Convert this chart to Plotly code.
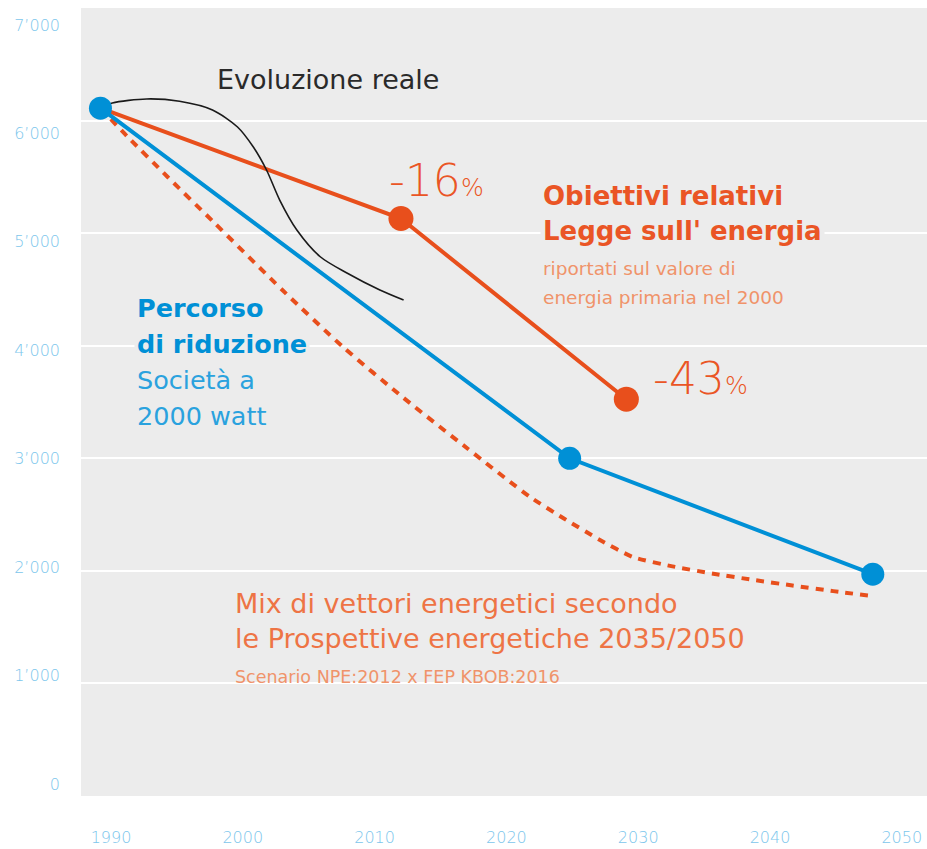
import plotly.graph_objects as go

# ---------------- data ----------------
years_path = [1989.2, 2024.8, 2047.8]          # Percorso di riduzione (Società a 2000 watt)
vals_path = [6110, 3000, 1970]

years_target = [1989.2, 2012.0, 2029.1]        # Obiettivi Legge sull'energia
vals_target = [6110, 5130, 3525]

years_real = [1989.2, 1990.1, 1992.7, 1995.2, 1997.7, 1999.6, 2000.8, 2001.8,
              2002.8, 2004.1, 2005.9, 2007.9, 2010.4, 2012.2]
vals_real = [6110, 6156, 6192, 6171, 6094, 5943, 5765, 5561,
             5294, 5028, 4788, 4646, 4495, 4406]

years_mix = [1989.2, 1991.2, 1994.3, 1997.7, 2003.0, 2007.6, 2012.2, 2017.0, 2021.8,
             2024.3, 2027.1, 2029.6, 2032.6, 2035.7, 2038.7, 2041.7, 2044.8, 2047.7]
vals_mix = [6110, 5863, 5499, 5108, 4495, 3989, 3536, 3091, 2656,
            2470, 2274, 2123, 2040, 1975, 1920, 1870, 1820, 1777]

x_ticks = [1990, 2000, 2010, 2020, 2030, 2040, 2050]
x_ticktext = ["1990", "2000", "2010", "2020", "2030", "2040", "2050"]
y_ticks = [0, 1000, 2000, 3000, 4000, 5000, 6000, 7000]
y_ticktext = ["0", "1’000", "2’000", "3’000", "4’000", "5’000", "6’000", "7’000"]
grid_vals = [1000, 2000, 3000, 4000, 5000, 6000]

# ---------------- style ----------------
W, H = 927, 849
ML, MR, MT, MB = 81, 0, 8, 53
ORANGE = "#e84f1c"
ORANGE_TXT = "#ea5525"
ORANGE_LIGHT = "#ee7445"
ORANGE_PALE = "#f0936a"
BLUE = "#0090d6"
BLUE_LIGHT = "#2aa2de"
TICK = "#7cc6ec"
BG = "#ececec"
FONT = "DejaVu Sans"

fig = go.Figure()

fig.add_trace(go.Scatter(x=years_mix, y=vals_mix, mode="lines",
                         line=dict(color=ORANGE, width=4, dash="8px,7px", shape="spline", smoothing=0.6),
                         hoverinfo="skip"))
fig.add_trace(go.Scatter(x=years_target, y=vals_target, mode="lines",
                         line=dict(color=ORANGE, width=4), hoverinfo="skip"))
fig.add_trace(go.Scatter(x=years_target[1:], y=vals_target[1:], mode="markers",
                         marker=dict(color=ORANGE, size=25), hoverinfo="skip"))
fig.add_trace(go.Scatter(x=years_real, y=vals_real, mode="lines",
                         line=dict(color="#1a1a1a", width=1.6, shape="spline", smoothing=0.8),
                         hoverinfo="skip"))
fig.add_trace(go.Scatter(x=years_path, y=vals_path, mode="lines+markers",
                         line=dict(color=BLUE, width=4), marker=dict(color=BLUE, size=23),
                         hoverinfo="skip"))
# invisible trace carrying the label axis
fig.add_trace(go.Scatter(x=[1990], y=[0], yaxis="y2", mode="markers",
                         marker=dict(opacity=0), hoverinfo="skip"))


def px_x(px):
    return (px - ML) / (W - ML - MR)


def px_y(py):
    return (H - MB - py) / (H - MB - MT)


anns = []


def ann(text, x, y, size, color, bg=None, weight=None):
    f = dict(family=FONT, size=size, color=color)
    if weight:
        f["weight"] = weight
    d = dict(text=text, x=px_x(x), y=px_y(y), xref="paper", yref="paper",
             xanchor="left", yanchor="middle", showarrow=False,
             font=f, borderpad=2)
    if bg:
        d["bgcolor"] = bg
    anns.append(d)


ann("Evoluzione reale", 214, 79, 27, "#2a2a2a")
ann("-16<span style='font-size:24px'>%</span>", 386, 180, 44, ORANGE_TXT, weight=300)
ann("-43<span style='font-size:24px'>%</span>", 650, 378, 44, ORANGE_TXT, weight=300)
ann("<b>Obiettivi relativi</b>", 540, 196, 26, ORANGE_TXT)
ann("<b>Legge sull' energia</b>", 540, 231, 26, ORANGE_TXT, bg=BG)
ann("riportati sul valore di", 540, 268, 18.5, ORANGE_PALE)
ann("energia primaria nel 2000", 540, 297, 18.5, ORANGE_PALE)
ann("<b>Percorso</b>", 134, 308, 25.5, BLUE)
ann("<b>di riduzione</b>", 134, 344, 25.5, BLUE, bg=BG)
ann("Società a", 134, 380, 25.5, BLUE_LIGHT)
ann("2000 watt", 134, 416, 25.5, BLUE_LIGHT)
ann("Mix di vettori energetici secondo", 232, 603, 27, ORANGE_LIGHT)
ann("le Prospettive energetiche 2035/2050", 232, 638, 27, ORANGE_LIGHT)
ann("Scenario NPE:2012 x FEP KBOB:2016", 232, 677, 17.5, ORANGE_PALE)

# label axis mapping so labels sit where the reference draws them
px_per_unit = (784 - 25) / 7000.0
y2_top = 7000 + (25 - MT) / px_per_unit
y2_bot = 0 - ((H - MB) - 784) / px_per_unit

fig.update_layout(
    width=W, height=H, autosize=False,
    margin=dict(l=ML, r=MR, t=MT, b=MB, pad=0),
    paper_bgcolor="white", plot_bgcolor=BG,
    showlegend=False,
    annotations=anns,
    xaxis=dict(range=[1990 - (111 - ML) / 13.18, 1990 + (W - MR - 111) / 13.18],
               tickvals=x_ticks, ticktext=x_ticktext, showgrid=False, zeroline=False,
               showline=False, ticks="", ticklabelstandoff=30,
               tickfont=dict(family=FONT, size=16, color=TICK, weight=300)),
    yaxis=dict(range=[0, 7000], tickvals=grid_vals, showticklabels=False,
               showgrid=True, gridcolor="white", gridwidth=2, zeroline=False,
               showline=False, ticks=""),
    yaxis2=dict(range=[y2_bot, y2_top], overlaying="y", side="left",
                tickvals=y_ticks, ticktext=y_ticktext, showgrid=False, zeroline=False,
                showline=False, ticks="", ticklabelstandoff=20,
                tickfont=dict(family=FONT, size=16, color=TICK, weight=300)),
)

fig.write_html("out.html", config={"displayModeBar": False},
               post_script="document.body.style.margin='0px';")
